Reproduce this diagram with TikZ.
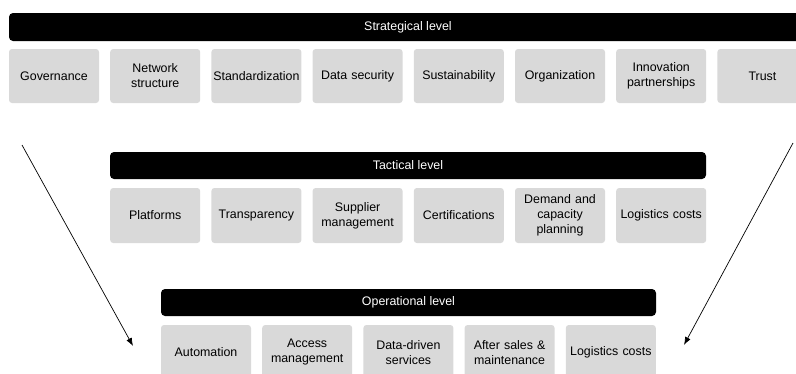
\documentclass[tikz,border=0pt]{standalone}
\usepackage{fontspec}
\setmainfont{Liberation Sans}
\usetikzlibrary{arrows.meta}
\definecolor{boxgray}{RGB}{217,217,217}
\tikzset{
    levelbar/.style={fill=black, rounded corners=4pt, text=white, inner sep=0pt},
    topicbox/.style={fill=boxgray, rounded corners=3pt, minimum width=90pt, minimum height=54pt,
        inner sep=1pt, align=center, text width=88pt},
    trend/.style={black, line width=0.7pt, -{Latex[length=8pt,width=6pt]}}
}
\begin{document}
\begin{tikzpicture}[x=1pt, y=-1pt, every node/.style={font=\fontsize{12.4}{15}\selectfont}]
            \useasboundingbox (0,0) rectangle (796,373);
            \clip (0,0) rectangle (796,373);

            % strategical level
            \node[levelbar, minimum width=798pt, minimum height=28pt] (s-bar) at (408,27) {Strategical level};
            \foreach \topic [count=\idx from 0] in {Governance, Network\\structure, Standardization,
                Data security, Sustainability, Organization, Innovation\\partnerships, Trust}
                \node[topicbox] (s-\idx) at (54+101.2*\idx,76) {\topic};

            % tactical level
            \node[levelbar, minimum width=596pt, minimum height=27pt] (t-bar) at (408,165.5) {Tactical level};
            \foreach \topic [count=\idx from 0] in {Platforms, Transparency, Supplier\\management,
                Certifications, Demand and\\capacity\\planning, Logistics costs}
                \node[topicbox, minimum height=55pt] (t-\idx) at (155.2+101.2*\idx,215.5) {\topic};

            % operational level
            \node[levelbar, minimum width=495pt, minimum height=27pt] (o-bar) at (408.5,302.5) {Operational level};
            \foreach \topic [count=\idx from 0] in {Automation, Access\\management, Data-driven\\services,
                After sales \&\\maintenance, Logistics costs}
                \node[topicbox, minimum height=55pt] (o-\idx) at (206+101.2*\idx,352.5) {\topic};

            \coordinate (l-top) at (22,145);
            \coordinate (l-end) at (133,346);
            \coordinate (r-top) at (793,143);
            \coordinate (r-end) at (684,345);
            \draw[trend] (l-top) -- (l-end);
            \draw[trend] (r-top) -- (r-end);
        \end{tikzpicture}
\end{document}
